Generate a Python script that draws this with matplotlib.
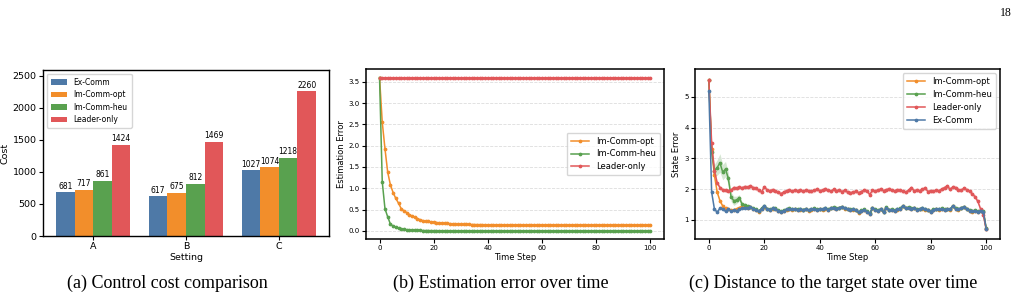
import matplotlib
matplotlib.use("Agg")
import matplotlib.pyplot as plt
import numpy as np

# ---------------- data ----------------
settings = ["A", "B", "C"]
bar_methods = ["Ex-Comm", "Im-Comm-opt", "Im-Comm-heu", "Leader-only"]
cost_ex = [681, 617, 1027]
cost_opt = [717, 675, 1074]
cost_heu = [861, 812, 1218]
cost_leader = [1424, 1469, 2260]

time_steps = list(range(101))

est_opt = [3.60, 2.55, 1.93, 1.38, 1.08, 0.90, 0.76, 0.65, 0.52, 0.47,
           0.43, 0.38, 0.35, 0.32, 0.29, 0.26, 0.24, 0.23, 0.22, 0.21,
           0.20, 0.195, 0.19, 0.185, 0.18, 0.175, 0.17, 0.165, 0.16, 0.158,
           0.155, 0.153, 0.151, 0.150, 0.148, 0.147, 0.146, 0.145, 0.144, 0.143,
           0.142, 0.141, 0.141, 0.140, 0.140, 0.139, 0.139, 0.139, 0.138, 0.138,
           0.138, 0.138, 0.137, 0.137, 0.137, 0.137, 0.137, 0.136, 0.136, 0.136,
           0.136, 0.136, 0.136, 0.136, 0.136, 0.135, 0.135, 0.135, 0.135, 0.135,
           0.135, 0.135, 0.135, 0.135, 0.135, 0.135, 0.135, 0.135, 0.135, 0.135,
           0.135, 0.135, 0.135, 0.135, 0.135, 0.135, 0.135, 0.135, 0.135, 0.135,
           0.135, 0.135, 0.135, 0.135, 0.135, 0.135, 0.135, 0.135, 0.135, 0.135,
           0.135]
est_heu = [3.60, 1.15, 0.52, 0.33, 0.16, 0.11, 0.08, 0.06, 0.045, 0.035,
           0.028, 0.022, 0.018, 0.014, 0.011, 0.009, 0.007, 0.006, 0.005, 0.004,
           0.003, 0.003, 0.002, 0.002, 0.002, 0.001, 0.001, 0.001, 0.001, 0.001,
           0.001, 0.001, 0.0, 0.0, 0.0, 0.0, 0.0, 0.0, 0.0, 0.0,
           0.0, 0.0, 0.0, 0.0, 0.0, 0.0, 0.0, 0.0, 0.0, 0.0,
           0.0, 0.0, 0.0, 0.0, 0.0, 0.0, 0.0, 0.0, 0.0, 0.0,
           0.0, 0.0, 0.0, 0.0, 0.0, 0.0, 0.0, 0.0, 0.0, 0.0,
           0.0, 0.0, 0.0, 0.0, 0.0, 0.0, 0.0, 0.0, 0.0, 0.0,
           0.0, 0.0, 0.0, 0.0, 0.0, 0.0, 0.0, 0.0, 0.0, 0.0,
           0.0, 0.0, 0.0, 0.0, 0.0, 0.0, 0.0, 0.0, 0.0, 0.0,
           0.0]
est_leader = [3.60] * 101

state_ex = [5.18, 1.90, 1.35, 1.25, 1.38, 1.36, 1.28, 1.34, 1.29, 1.31,
            1.30, 1.34, 1.37, 1.40, 1.37, 1.41, 1.36, 1.33, 1.28, 1.36,
            1.45, 1.35, 1.33, 1.37, 1.36, 1.30, 1.27, 1.30, 1.34, 1.36,
            1.34, 1.35, 1.33, 1.34, 1.32, 1.35, 1.31, 1.34, 1.36, 1.33,
            1.35, 1.34, 1.37, 1.33, 1.38, 1.40, 1.36, 1.39, 1.42, 1.37,
            1.35, 1.33, 1.34, 1.32, 1.24, 1.30, 1.33, 1.27, 1.20, 1.38,
            1.33, 1.30, 1.35, 1.25, 1.40, 1.32, 1.33, 1.30, 1.34, 1.36,
            1.45, 1.38, 1.40, 1.36, 1.39, 1.33, 1.35, 1.37, 1.34, 1.32,
            1.27, 1.33, 1.35, 1.34, 1.36, 1.33, 1.35, 1.34, 1.45, 1.36,
            1.34, 1.38, 1.42, 1.35, 1.30, 1.28, 1.30, 1.27, 1.30, 1.27,
            0.72]
state_opt = [5.55, 3.30, 2.45, 1.90, 1.62, 1.45, 1.37, 1.35, 1.31, 1.33,
             1.36, 1.40, 1.44, 1.42, 1.40, 1.41, 1.35, 1.32, 1.27, 1.35,
             1.43, 1.34, 1.32, 1.36, 1.35, 1.29, 1.26, 1.29, 1.33, 1.35,
             1.33, 1.34, 1.32, 1.33, 1.31, 1.34, 1.30, 1.33, 1.35, 1.32,
             1.34, 1.33, 1.36, 1.32, 1.37, 1.39, 1.35, 1.38, 1.41, 1.36,
             1.34, 1.32, 1.33, 1.31, 1.23, 1.29, 1.32, 1.26, 1.19, 1.37,
             1.32, 1.29, 1.34, 1.24, 1.39, 1.31, 1.32, 1.29, 1.33, 1.35,
             1.44, 1.37, 1.39, 1.35, 1.38, 1.32, 1.34, 1.36, 1.33, 1.31,
             1.26, 1.32, 1.34, 1.33, 1.35, 1.32, 1.34, 1.33, 1.44, 1.35,
             1.33, 1.37, 1.41, 1.34, 1.29, 1.27, 1.29, 1.26, 1.29, 1.26,
             0.71]
state_heu = [5.55, 3.20, 2.60, 2.70, 2.85, 2.55, 2.65, 2.35, 1.75, 1.62,
             1.65, 1.72, 1.50, 1.48, 1.45, 1.42, 1.37, 1.34, 1.29, 1.37,
             1.46, 1.36, 1.34, 1.38, 1.37, 1.31, 1.28, 1.31, 1.35, 1.37,
             1.35, 1.36, 1.34, 1.35, 1.33, 1.36, 1.32, 1.35, 1.37, 1.34,
             1.36, 1.35, 1.38, 1.34, 1.39, 1.41, 1.37, 1.40, 1.43, 1.38,
             1.36, 1.34, 1.35, 1.33, 1.25, 1.31, 1.34, 1.28, 1.21, 1.39,
             1.34, 1.31, 1.36, 1.26, 1.41, 1.33, 1.34, 1.31, 1.35, 1.37,
             1.46, 1.39, 1.41, 1.37, 1.40, 1.34, 1.36, 1.38, 1.35, 1.33,
             1.28, 1.34, 1.36, 1.35, 1.37, 1.34, 1.36, 1.35, 1.46, 1.37,
             1.35, 1.39, 1.43, 1.36, 1.31, 1.29, 1.31, 1.28, 1.31, 1.28,
             0.73]
state_leader = [5.55, 3.50, 2.60, 2.20, 2.05, 1.98, 1.96, 1.95, 1.97, 2.05,
                2.03, 2.06, 2.04, 2.08, 2.06, 2.10, 2.05, 2.02, 1.96, 1.90,
                2.08, 1.97, 1.95, 1.98, 1.94, 1.90, 1.85, 1.90, 1.95, 1.97,
                1.94, 1.96, 1.95, 1.97, 1.93, 1.97, 1.95, 1.93, 1.96, 2.00,
                1.95, 1.97, 2.01, 1.96, 1.93, 1.99, 1.95, 1.97, 1.92, 1.96,
                1.90, 1.88, 1.90, 1.93, 1.88, 1.92, 1.97, 1.95, 1.82, 1.96,
                1.94, 1.97, 2.00, 1.95, 1.98, 2.01, 1.97, 1.94, 1.98, 1.96,
                1.93, 1.90, 1.96, 2.05, 1.95, 1.97, 1.95, 1.99, 2.04, 1.92,
                1.95, 1.93, 1.96, 1.95, 2.00, 2.05, 2.10, 1.99, 2.07, 2.05,
                1.98, 1.96, 2.03, 1.98, 1.93, 1.85, 1.75, 1.60, 1.35, 1.15,
                0.70]

# band half-widths (std)
heu_std_early = [0.10, 0.15, 0.20, 0.25, 0.30, 0.25, 0.25, 0.20, 0.15, 0.15,
                 0.12, 0.10, 0.08, 0.06, 0.05]

# ---------------- style ----------------
C_BLUE = "#4e79a7"
C_ORANGE = "#f28e2b"
C_GREEN = "#59a14f"
C_RED = "#e15759"

fig = plt.figure(figsize=(10.23, 2.98), dpi=100)
W, H = 1023, 298


def rect(l, t, r, b):
    return [l / W, 1 - b / H, (r - l) / W, (b - t) / H]


# ---------------- (a) bar chart ----------------
ax1 = fig.add_axes(rect(43, 70, 329, 236))
x = np.arange(len(settings))
bw = 0.2
series = [cost_ex, cost_opt, cost_heu, cost_leader]
colors = [C_BLUE, C_ORANGE, C_GREEN, C_RED]
for i, (vals, c, lab) in enumerate(zip(series, colors, bar_methods)):
    bars = ax1.bar(x + (i - 1.5) * bw, vals, bw, color=c, label=lab)
    for b_, v in zip(bars, vals):
        ax1.text(b_.get_x() + b_.get_width() / 2, v + 25, f"{v}",
                 ha="center", va="bottom", fontsize=5.5)
ax1.set_xticks(x)
ax1.set_xticklabels(settings)
ax1.set_ylim(0, 2590)
ax1.set_yticks([0, 500, 1000, 1500, 2000, 2500])
ax1.tick_params(labelsize=6.8, length=3, pad=1.5)
ax1.set_xlabel("Setting", fontsize=6.8, labelpad=1)
ax1.set_ylabel("Cost", fontsize=6.8, labelpad=2)
ax1.legend(loc="upper left", fontsize=5.5, frameon=True, edgecolor="#cccccc",
           handlelength=2.2, borderpad=0.5, labelspacing=0.45)
for s in ax1.spines.values():
    s.set_linewidth(1.0)

# ---------------- (b) estimation error ----------------
ax2 = fig.add_axes(rect(366, 69, 664, 239))
t = np.array(time_steps)
mk = dict(marker="o", markersize=1.7, linewidth=1.1)
for vals, c, lab, sd in [(est_opt, C_ORANGE, "Im-Comm-opt", 0.02),
                         (est_heu, C_GREEN, "Im-Comm-heu", 0.01),
                         (est_leader, C_RED, "Leader-only", 0.015)]:
    v = np.array(vals)
    ax2.fill_between(t, v - sd, v + sd, color=c, alpha=0.25, linewidth=0)
    ax2.plot(t, v, color=c, label=lab, **mk)
ax2.set_yticks([0.0, 0.5, 1.0, 1.5, 2.0, 2.5, 3.0, 3.5])
ax2.set_xticks([0, 20, 40, 60, 80, 100])
ax2.tick_params(labelsize=5, length=3, pad=1.5)
ax2.set_xlabel("Time Step", fontsize=6, labelpad=1)
ax2.set_ylabel("Estimation Error", fontsize=6, labelpad=2)
ax2.grid(axis="y", linestyle="--", color="#dddddd", linewidth=0.6)
ax2.legend(loc="center right", fontsize=6, frameon=True, edgecolor="#cccccc",
           handlelength=2.2, borderpad=0.5, labelspacing=0.45)
for s in ax2.spines.values():
    s.set_linewidth(1.1)

# ---------------- (c) state error ----------------
ax3 = fig.add_axes(rect(695, 69, 1000, 239))
heu_std = np.array(heu_std_early + [0.04] * (101 - len(heu_std_early)))
for vals, c, lab, sd in [(state_opt, C_ORANGE, "Im-Comm-opt", 0.04),
                         (state_heu, C_GREEN, "Im-Comm-heu", heu_std),
                         (state_leader, C_RED, "Leader-only", 0.07),
                         (state_ex, C_BLUE, "Ex-Comm", 0.04)]:
    v = np.array(vals)
    ax3.fill_between(t, v - sd, v + sd, color=c, alpha=0.25, linewidth=0)
    ax3.plot(t, v, color=c, label=lab, **mk)
ax3.set_yticks([1, 2, 3, 4, 5])
ax3.set_xticks([0, 20, 40, 60, 80, 100])
ax3.tick_params(labelsize=5, length=3, pad=1.5)
ax3.set_xlabel("Time Step", fontsize=6, labelpad=1)
ax3.set_ylabel("State Error", fontsize=6, labelpad=2)
ax3.grid(axis="y", linestyle="--", color="#dddddd", linewidth=0.6)
ax3.legend(loc="upper right", fontsize=6, frameon=True, edgecolor="#cccccc",
           handlelength=2.2, borderpad=0.5, labelspacing=0.45)
for s in ax3.spines.values():
    s.set_linewidth(1.1)

# ---------------- captions & page number ----------------
serif = ["Liberation Serif", "DejaVu Serif"]
fig.text(167 / W, 1 - 283 / H, "(a) Control cost comparison", ha="center",
         va="center", fontsize=13, family=serif)
fig.text(501 / W, 1 - 283 / H, "(b) Estimation error over time", ha="center",
         va="center", fontsize=13, family=serif)
fig.text(689 / W, 1 - 283 / H, "(c) Distance to the target state over time",
         ha="left", va="center", fontsize=13, family=serif)
fig.text(1006 / W, 1 - 13 / H, "18", ha="center", va="center", fontsize=8.5,
         family=serif)

fig.savefig("out.png", dpi=100)
